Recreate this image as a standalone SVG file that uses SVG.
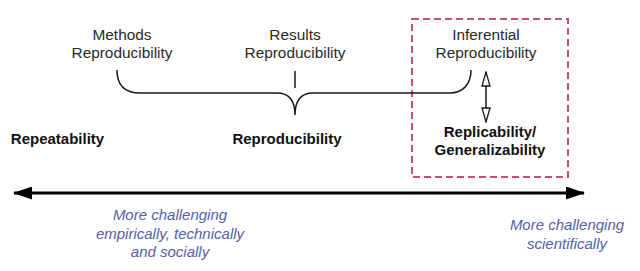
<svg xmlns="http://www.w3.org/2000/svg" width="640" height="271" viewBox="0 0 640 271">
<style>
.lbl{font-family:"Liberation Sans",Arial,sans-serif;font-size:15.4px;fill:#2a2a2a;text-anchor:middle}
.bold{font-weight:bold;font-size:15px;fill:#111}
.note{font-family:"Liberation Sans",Arial,sans-serif;font-size:15px;font-style:italic;fill:#5560a8;text-anchor:middle}
.ln{fill:none;stroke:#1a1a1a;stroke-width:1.5}
</style>
<defs>
<marker id="solid" viewBox="0 0 19 13" refX="18" refY="6.5" markerWidth="19" markerHeight="13" markerUnits="userSpaceOnUse" orient="auto-start-reverse">
<path d="M0,0 L19,6.5 L0,13 z" fill="#000"/>
</marker>
<marker id="hollow" viewBox="0 0 16 10" refX="15" refY="5" markerWidth="16" markerHeight="10" markerUnits="userSpaceOnUse" orient="auto-start-reverse">
<path d="M1,1 L15,5 L1,9 z" fill="#fff" stroke="#1a1a1a" stroke-width="1.3"/>
</marker>
</defs>
<rect width="640" height="271" fill="#fff"/>
<g id="box">
<rect x="412" y="19" width="156" height="158" fill="none" stroke="#c4546e" stroke-width="2" stroke-dasharray="7,4"/>
</g>
<g id="methods"><text class="lbl" x="122" y="40">Methods</text><text class="lbl" x="122" y="58">Reproducibility</text></g>
<g id="results"><text class="lbl" x="295" y="40">Results</text><text class="lbl" x="295" y="58">Reproducibility</text></g>
<g id="inferential"><text class="lbl" x="486" y="40">Inferential</text><text class="lbl" x="486" y="58">Reproducibility</text></g>
<g id="repeatability"><text class="lbl bold" x="57.5" y="144">Repeatability</text></g>
<g id="reproducibility"><text class="lbl bold" x="287" y="144">Reproducibility</text></g>
<g id="replicability"><text class="lbl bold" x="490" y="137">Replicability/</text><text class="lbl bold" x="490" y="155">Generalizability</text></g>
<g id="note-left"><text class="note" x="170" y="220">More challenging</text><text class="note" x="170" y="239">empirically, technically</text><text class="note" x="170" y="257">and socially</text></g>
<g id="note-right"><text class="note" x="567" y="230">More challenging</text><text class="note" x="567" y="249">scientifically</text></g>
<g id="connectors">
<path class="ln" d="M117,70 C117,85 125,93 140,93 L277,93 Q295,93 295,115 Q295,93 313,93 L450,93 C462,93 471,85 471,70"/>
<line class="ln" x1="295" y1="71" x2="295" y2="88"/>
<line class="ln" x1="486" y1="72" x2="486" y2="122" marker-start="url(#hollow)" marker-end="url(#hollow)"/>
<line x1="14" y1="193" x2="584" y2="193" stroke="#000" stroke-width="3" marker-start="url(#solid)" marker-end="url(#solid)"/>
</g>
</svg>
